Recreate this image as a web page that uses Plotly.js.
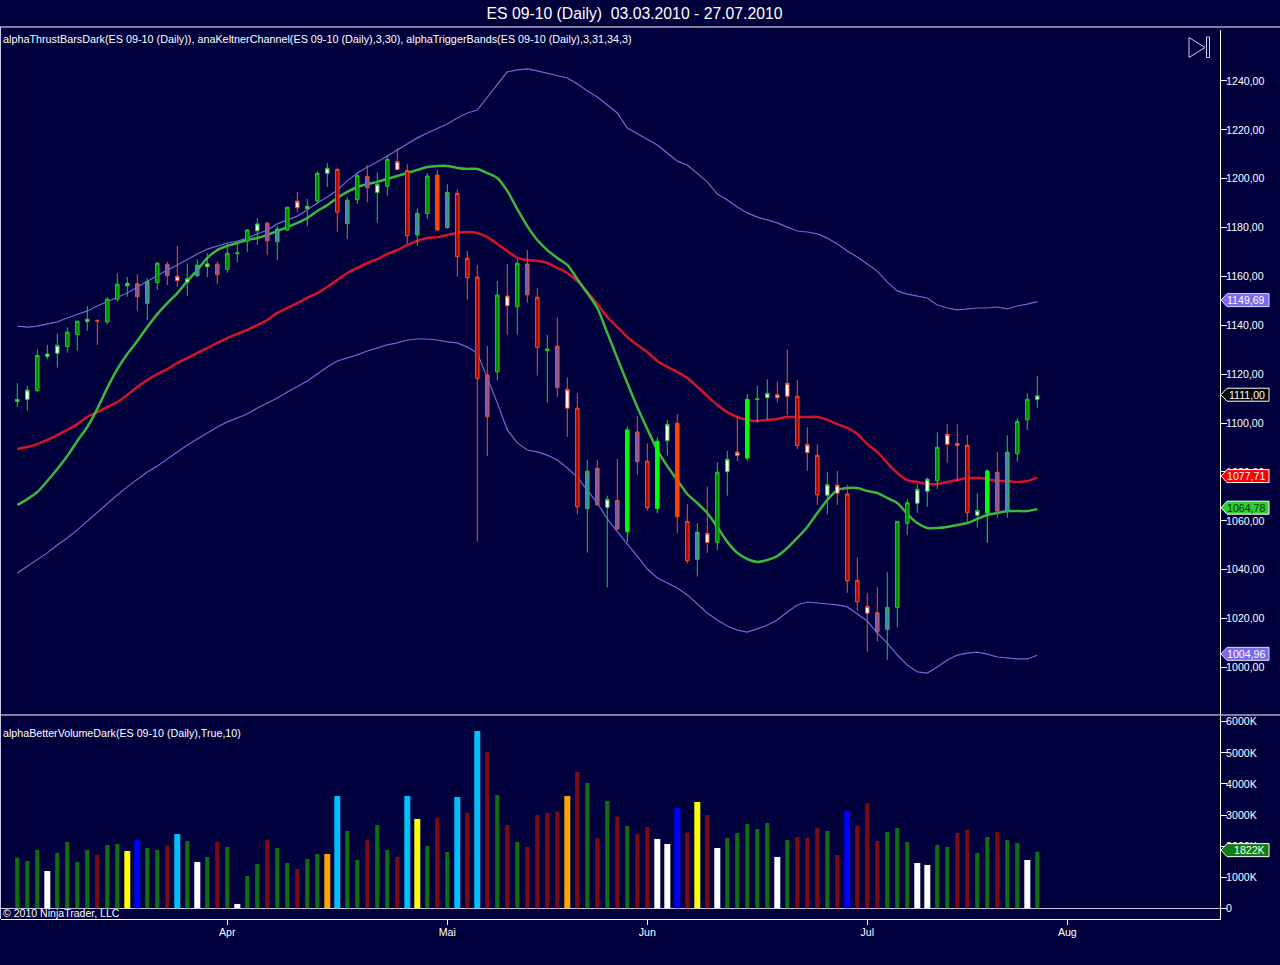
<!DOCTYPE html>
<html>
<head>
<meta charset="utf-8">
<script src="https://cdn.plot.ly/plotly-3.0.1.min.js"></script>
<style>html,body{margin:0;padding:0;background:#00003c;overflow:hidden}#chart{width:1280px;height:965px}</style>
</head>
<body>
<div id="chart"></div>
<script>
const monthTickIndex = [21, 43, 63, 85, 105];
const monthTickLabels = ['Apr', 'Mai', 'Jun', 'Jul', 'Aug'];
const priceTicks = [1000,1020,1040,1060,1080,1100,1120,1140,1160,1180,1200,1220,1240];
const volumeTicks = [0,1000,2000,3000,4000,5000,6000];
const volumeTickLabels = ['0','1000K','2000K','3000K','4000K','5000K','6000K'];

const highs = [
1116.3,1115.2,1130.2,1132.0,1136.7,1139.2,1141.9,1147.9,1142.5,1151.5,
1161.3,1159.8,1160.9,1159.2,1166.0,1166.0,1172.5,1165.4,1167.0,1169.5,
1166.0,1173.6,1174.2,1179.4,1183.8,1182.4,1180.8,1188.5,1194.6,1191.7,
1203.0,1206.4,1204.3,1192.4,1202.2,1205.6,1202.6,1209.4,1212.4,1205.9,
1187.9,1202.2,1203.8,1197.7,1195.7,1170.5,1164.7,1131.5,1158.1,1165.1,
1167.0,1170.8,1155.2,1136.1,1143.3,1118.7,1112.2,1084.9,1084.9,1070.3,
1085.3,1098.5,1102.9,1091.7,1094.2,1101.3,1103.7,1066.8,1059.0,1074.0,
1084.0,1088.6,1102.6,1111.8,1115.2,1117.9,1117.1,1129.9,1117.6,1098.3,
1091.3,1080.0,1080.5,1074.7,1045.1,1030.4,1032.8,1039.0,1059.9,1068.8,
1075.1,1077.8,1096.2,1099.5,1099.5,1095.1,1071.3,1081.1,1088.2,1095.0,
1102.0,1112.2,1119.3];
const lows = [
1106.5,1105.1,1112.8,1126.1,1122.7,1128.8,1129.6,1137.7,1132.0,1140.4,
1149.7,1151.7,1146.0,1142.2,1154.5,1156.5,1155.8,1152.1,1159.7,1159.7,
1156.8,1161.5,1165.9,1170.0,1172.9,1168.8,1166.7,1178.7,1186.3,1180.6,
1189.9,1196.7,1178.3,1175.3,1189.7,1190.3,1182.0,1193.0,1203.6,1173.3,
1172.6,1183.5,1178.5,1179.5,1159.9,1150.4,1051.5,1086.5,1117.4,1136.1,
1136.3,1149.3,1119.4,1108.4,1110.8,1094.4,1062.8,1047.0,1066.5,1032.8,
1056.3,1051.2,1078.8,1064.2,1063.1,1086.7,1054.9,1042.6,1037.2,1046.9,
1048.1,1070.3,1084.5,1084.6,1100.2,1101.3,1108.4,1103.3,1089.3,1080.5,
1066.5,1062.8,1066.5,1030.6,1023.2,1006.5,1010.6,1003.1,1016.4,1054.2,
1063.3,1065.8,1073.0,1083.8,1076.0,1059.7,1057.2,1051.1,1061.3,1061.3,
1084.2,1097.2,1106.3];
const bodyTop = [
1109.7,1113.5,1127.7,1128.3,1131.8,1137.2,1141.7,1142.5,1141.9,1150.7,
1156.8,1157.2,1157.0,1157.9,1165.4,1165.0,1160.1,1159.1,1164.6,1165.2,
1165.0,1169.5,1169.6,1179.0,1181.5,1181.8,1179.4,1188.3,1190.8,1188.7,
1202.2,1204.3,1203.8,1191.2,1201.2,1201.0,1197.7,1207.9,1207.0,1203.3,
1185.8,1201.1,1201.5,1194.4,1194.0,1167.4,1159.7,1119.7,1152.4,1152.0,
1165.4,1165.1,1151.5,1130.3,1131.5,1113.8,1106.1,1080.3,1081.5,1068.8,
1068.4,1097.2,1096.4,1084.4,1092.6,1099.5,1099.9,1059.7,1055.3,1054.9,
1079.9,1085.2,1088.1,1109.7,1109.9,1112.2,1111.6,1116.3,1111.0,1091.2,
1086.8,1074.8,1074.6,1071.0,1035.7,1025.0,1022.4,1024.6,1059.8,1067.4,
1072.9,1077.0,1090.1,1095.4,1091.7,1090.9,1064.2,1080.4,1079.9,1088.1,
1100.7,1109.7,1111.2];
const bodyBottom = [
1108.8,1109.7,1113.3,1127.3,1128.6,1131.3,1136.2,1141.5,1141.7,1141.4,
1150.7,1156.2,1151.7,1149.0,1157.5,1160.3,1158.3,1157.7,1160.3,1164.0,
1160.7,1162.9,1169.3,1174.5,1178.7,1174.6,1174.2,1179.0,1188.1,1187.7,
1190.9,1202.2,1186.3,1181.6,1191.4,1196.3,1194.4,1196.9,1203.7,1176.7,
1177.0,1185.7,1179.0,1180.0,1168.1,1159.5,1118.3,1102.6,1121.0,1148.0,
1147.6,1152.5,1131.0,1129.6,1114.5,1106.1,1065.8,1065.1,1066.5,1065.5,
1056.7,1055.6,1084.2,1065.4,1065.1,1092.8,1061.7,1043.7,1044.3,1051.1,
1051.2,1080.1,1086.8,1085.7,1109.6,1110.4,1110.4,1111.0,1090.8,1087.9,
1070.7,1070.5,1071.3,1035.5,1026.9,1022.2,1014.6,1015.6,1024.6,1059.0,
1067.2,1072.1,1076.4,1091.3,1090.8,1063.3,1062.3,1063.2,1064.0,1063.7,
1087.5,1101.4,1109.7];
// w white/green, g dark green, b bright green, s steel/green, r dark red, o orange, x white/red, p purple/red
const candleKinds = [
'w','w','g','w','w','g','g','w','r','g',
'g','w','p','s','g','p','x','w','s','w',
'p','g','g','g','w','p','s','g','x','w',
'g','w','r','s','g','p','w','g','x','r',
's','g','o','s','r','r','r','p','g','x',
'g','p','r','g','p','x','r','s','p','w',
'p','b','p','r','b','w','o','r','s','x',
'g','w','x','b','g','w','x','x','r','x',
'r','w','x','r','r','x','p','s','g','g',
'w','w','g','x','x','r','w','b','p','s',
'g','g','w'];

const triggerGreen = [
1066.5,1068.9,1071.8,1076.3,1081.2,1086.5,1092.7,1098.4,1105.8,1114.4,
1122.1,1128.3,1133.6,1139.3,1144.6,1149.1,1153.2,1158.1,1162.6,1167.6,
1170.8,1172.5,1173.7,1174.9,1175.7,1177.0,1178.6,1180.2,1181.9,1183.9,
1186.8,1189.2,1192.1,1194.6,1196.6,1197.8,1198.7,1199.9,1201.1,1202.3,
1203.6,1204.8,1205.2,1205.2,1204.4,1204.0,1204.0,1202.3,1200.3,1195.0,
1187.6,1180.6,1174.9,1170.8,1167.6,1164.7,1159.0,1153.2,1147.1,1136.9,
1126.6,1116.4,1106.6,1097.6,1089.0,1082.4,1076.7,1071.0,1067.3,1063.2,
1057.5,1051.4,1046.9,1044.4,1043.2,1044.0,1045.6,1048.9,1053.0,1057.5,
1063.2,1068.5,1072.6,1073.4,1073.4,1072.2,1071.4,1069.4,1067.3,1062.8,
1059.1,1057.1,1057.1,1057.5,1058.3,1059.1,1060.8,1062.4,1063.2,1064.0,
1064.0,1064.0,1064.8];
const triggerRed = [
1089.4,1090.2,1091.4,1093.1,1095.1,1097.2,1099.6,1102.5,1104.5,1106.6,
1108.6,1111.5,1114.8,1117.6,1120.1,1122.1,1124.6,1126.6,1128.7,1130.7,
1132.8,1134.8,1136.5,1138.1,1140.1,1142.2,1145.1,1147.1,1149.1,1151.2,
1153.2,1155.7,1158.6,1161.4,1163.5,1165.5,1167.1,1169.2,1170.8,1172.9,
1174.5,1175.7,1176.1,1177.0,1177.8,1178.2,1177.8,1176.1,1173.3,1170.4,
1167.6,1166.7,1166.3,1165.5,1163.5,1161.4,1158.1,1153.6,1148.7,1143.4,
1139.3,1135.2,1132.0,1129.1,1125.4,1123.0,1120.9,1118.5,1114.8,1111.1,
1107.4,1104.5,1102.5,1101.3,1100.9,1101.3,1101.7,1102.5,1102.5,1102.5,
1102.5,1101.3,1099.6,1098.0,1095.5,1091.4,1088.2,1083.7,1079.6,1076.7,
1075.9,1075.1,1075.1,1075.9,1076.7,1077.5,1077.5,1077.1,1076.3,1076.3,
1075.9,1076.3,1077.7];
const keltnerUpper = [
1139.7,1139.3,1139.7,1140.6,1141.4,1143.0,1144.6,1145.9,1147.9,1149.6,
1151.2,1153.2,1155.7,1158.1,1160.2,1162.6,1164.7,1167.1,1169.2,1171.2,
1172.5,1173.7,1174.5,1175.7,1177.4,1179.0,1181.5,1183.1,1184.7,1187.2,
1190.1,1192.5,1195.4,1199.1,1202.3,1204.8,1206.8,1209.3,1211.7,1214.2,
1216.7,1218.7,1220.7,1222.4,1224.8,1226.9,1228.1,1233.4,1238.8,1243.7,
1244.5,1244.9,1244.1,1243.2,1242.4,1241.2,1238.8,1235.9,1233.4,1230.2,
1226.9,1220.7,1218.3,1216.2,1213.8,1210.5,1207.2,1205.6,1202.3,1198.7,
1193.7,1191.3,1188.4,1186.0,1184.3,1183.1,1181.9,1180.2,1178.6,1178.2,
1177.4,1175.7,1173.3,1170.4,1168.0,1165.1,1162.2,1157.7,1154.1,1152.8,
1152.0,1151.2,1148.3,1147.1,1146.3,1146.7,1147.1,1147.1,1147.5,1146.7,
1147.9,1148.7,1149.7];
const keltnerLower = [
1038.7,1041.5,1044.4,1046.9,1050.1,1053.0,1056.3,1059.9,1063.6,1066.9,
1070.6,1073.9,1077.1,1080.0,1082.4,1085.3,1088.2,1091.0,1093.5,1096.0,
1098.4,1100.5,1102.1,1103.7,1106.2,1108.2,1110.3,1112.7,1114.8,1117.2,
1120.1,1123.0,1125.4,1126.6,1127.9,1129.5,1130.7,1132.0,1132.8,1134.0,
1134.4,1134.4,1134.0,1133.2,1132.8,1131.1,1128.7,1118.5,1108.2,1097.2,
1091.9,1089.0,1088.2,1086.9,1084.9,1081.6,1077.9,1072.6,1067.3,1060.8,
1055.4,1050.5,1045.6,1040.3,1036.6,1034.6,1032.5,1029.7,1026.0,1022.3,
1019.4,1017.0,1015.3,1014.5,1015.8,1017.4,1019.4,1022.7,1025.6,1026.8,
1026.4,1026.0,1025.6,1024.8,1021.9,1019.0,1014.1,1010.0,1005.1,1001.0,
998.2,997.7,1000.2,1003.1,1005.1,1005.9,1006.3,1005.5,1004.3,1003.9,
1003.5,1003.5,1005.0];

// thousands of contracts
const volumes = [
1629,1522,1876,1200,1780,2133,1490,1876,1726,2037,
2069,1844,2198,1940,1876,2015,2390,2165,1490,1651,
2133,1972,140,1040,1426,2198,1940,1458,1265,1587,
1747,1747,3613,2487,1554,2198,2680,1876,1651,3613,
2873,2005,2905,1812,3580,3077,5703,5028,3645,2680,
2133,1972,3002,3077,3109,3613,4384,4031,2262,3452,
2948,2648,2390,2616,2230,2069,3227,2433,3420,3002,
1940,2262,2423,2712,2551,2744,1651,2198,2294,2262,
2584,2487,1715,3130,2648,3377,2165,2455,2584,2133,
1458,1394,2037,1972,2423,2519,1780,2294,2455,2198,
2101,1554,1822];
// g green, r red, w white, c cyan, y yellow, b blue, o orange
const volumeKinds = [
'g','g','g','w','g','g','g','g','r','g',
'g','y','b','g','g','r','c','g','w','g',
'r','g','w','g','g','r','g','g','r','g',
'g','o','c','g','g','r','g','g','r','c',
'y','g','r','g','c','r','c','r','g','r',
'g','r','r','r','r','o','r','g','r','g',
'r','g','r','r','w','w','b','r','y','r',
'w','g','g','g','g','g','w','g','r','r',
'r','g','r','b','r','r','r','g','g','g',
'w','w','g','g','r','r','g','g','r','g',
'g','w','g'];

const lastValueTags = [
  {axis:'y',  value:1149.69, text:'1149,69', fill:'#7b68ee', border:'#e0e0ff', ink:'#ffffff'},
  {axis:'y',  value:1111.00, text:'1111,00', fill:'#000000', border:'#ffffff', ink:'#ffffff'},
  {axis:'y',  value:1077.71, text:'1077,71', fill:'#ff0000', border:'#ffffff', ink:'#ffffff'},
  {axis:'y',  value:1064.78, text:'1064,78', fill:'#32cd32', border:'#ffffff', ink:'#003300'},
  {axis:'y',  value:1004.96, text:'1004,96', fill:'#7b68ee', border:'#e0e0ff', ink:'#ffffff'},
  {axis:'y2', value:1822,    text:'1822K',   fill:'#147a14', border:'#ffffff', ink:'#ffffff'}
];

const chartTitle = 'ES 09-10 (Daily)\u00a0 03.03.2010 - 27.07.2010';
const priceLegend = 'alphaThrustBarsDark(ES 09-10 (Daily)), anaKeltnerChannel(ES 09-10 (Daily),3,30), alphaTriggerBands(ES 09-10 (Daily),3,31,34,3)';
const volumeLegend = 'alphaBetterVolumeDark(ES 09-10 (Daily),True,10)';
const copyright = '\u00a9 2010 NinjaTrader, LLC';

// ---------- styling ----------
const W = 1280, H = 965;
const BG = '#00003c';
const FONT = '"Liberation Sans", Arial, sans-serif';
const px = v => v / W;
const py = v => 1 - v / H;
const PRICE_RANGE = [980.77, 1260.84];
const VOLUME_RANGE = [-344, 6199];
const X_RANGE = [-1.63, 120.27];

const candleStyles = {
  g: {fill:'#008a00', line:'#22cc22'},
  b: {fill:'#00ff00', line:'#00ff00'},
  w: {fill:'#ffffff', line:'#22cc22'},
  s: {fill:'#4682b4', line:'#22cc22'},
  r: {fill:'#a80808', line:'#ff4a20'},
  o: {fill:'#ff4500', line:'#ff4500'},
  x: {fill:'#ffffff', line:'#ff4a20'},
  p: {fill:'#7060b4', line:'#ff4a20'}
};
const volumeStyles = {
  g: {color:'#0f6e0f', width:0.42},
  r: {color:'#7d0a14', width:0.42},
  w: {color:'#ffffff', width:0.6},
  c: {color:'#00bfff', width:0.6},
  y: {color:'#ffff00', width:0.6},
  b: {color:'#0000ff', width:0.6},
  o: {color:'#ffa500', width:0.6}
};

const indexes = highs.map((_, i) => i);

const lineTrace = (values, color, width, shape) => ({
  type:'scatter', mode:'lines', x:indexes, y:values, xaxis:'x', yaxis:'y',
  line:{color, width, shape, smoothing:0.7}, hoverinfo:'skip', showlegend:false
});

const traces = [
  lineTrace(keltnerUpper, '#7068d8', 1.2, 'linear'),
  lineTrace(keltnerLower, '#7068d8', 1.2, 'linear'),
  lineTrace(triggerRed, '#d4142a', 2.5, 'spline'),
  lineTrace(triggerGreen, '#3cb83c', 2.5, 'spline')
];

Object.keys(candleStyles).forEach(kind => {
  const picks = indexes.filter(i => candleKinds[i] === kind);
  const st = candleStyles[kind];
  const side = {line:{color:st.line, width:1}, fillcolor:st.fill};
  traces.push({
    type:'candlestick', xaxis:'x', yaxis:'y3',
    x:picks,
    open:picks.map(i => bodyBottom[i]),
    close:picks.map(i => bodyTop[i]),
    high:picks.map(i => highs[i]),
    low:picks.map(i => lows[i]),
    increasing:side, decreasing:side,
    hoverinfo:'skip', showlegend:false
  });
});

traces.push({
  type:'bar', xaxis:'x', yaxis:'y2', x:indexes, y:volumes,
  width:volumeKinds.map(k => volumeStyles[k].width),
  marker:{color:volumeKinds.map(k => volumeStyles[k].color), line:{width:0}},
  hoverinfo:'skip', showlegend:false
});

const rule = (x0, y0, x1, y1, color) => ({
  type:'line', xref:'paper', yref:'paper',
  x0:px(x0), y0:py(y0), x1:px(x1), y1:py(y1),
  line:{color:color || '#ffffff', width:1}
});

const shapes = [
  rule(0, 27, 1280, 27),
  rule(0, 715, 1280, 715),
  rule(0.5, 27, 0.5, 919, '#c8c8e8'),
  {type:'path', xref:'paper', yref:'paper',
   path:`M${px(1189)},${py(37.5)} L${px(1205)},${py(47.5)} L${px(1189)},${py(57.5)} Z`,
   line:{color:'#d0d0f0', width:1}, fillcolor:'rgba(0,0,0,0)'},
  {type:'rect', xref:'paper', yref:'paper',
   x0:px(1206.5), x1:px(1209.5), y0:py(37), y1:py(57.5),
   line:{color:'#d0d0f0', width:1}, fillcolor:'rgba(0,0,0,0)'}
];

const annotations = [
  {xref:'paper', yref:'paper', x:px(1), y:py(39), xanchor:'left', yanchor:'middle', showarrow:false,
   text:priceLegend, font:{family:FONT, size:10.8, color:'#ffffff'}},
  {xref:'paper', yref:'paper', x:px(1), y:py(733), xanchor:'left', yanchor:'middle', showarrow:false,
   text:volumeLegend, font:{family:FONT, size:10.7, color:'#ffffff'}},
  {xref:'paper', yref:'paper', x:px(1), y:py(912.5), xanchor:'left', yanchor:'middle', showarrow:false,
   text:copyright, font:{family:FONT, size:10.55, color:'#ffffff'}}
];

lastValueTags.forEach(t => {
  shapes.push({
    type:'path', xref:'paper', yref:t.axis,
    xsizemode:'pixel', xanchor:px(1220), ysizemode:'pixel', yanchor:t.value,
    path:'M1,1.5 L7,8 L49,8 L49,-5 L7,-5 Z',
    fillcolor:t.fill, line:{color:t.border, width:1}
  });
  annotations.push({
    xref:'paper', yref:t.axis, x:px(1266.5), y:t.value, yshift:1.5,
    xanchor:'right', yanchor:'middle', showarrow:false, text:t.text,
    font:{family:FONT, size:10.6, color:t.ink}
  });
});

const axisFont = {family:FONT, size:10.6, color:'#ffffff'};

const layout = {
  width:W, height:H,
  margin:{l:0, r:0, t:0, b:0, pad:0},
  paper_bgcolor:BG, plot_bgcolor:BG,
  separators:', ',
  showlegend:false,
  hovermode:false,
  dragmode:false,
  boxmode:'overlay',
  boxgap:0.5,
  barmode:'overlay',
  title:{text:chartTitle, x:634.5/W, xanchor:'center', xref:'paper',
         y:py(13), yanchor:'middle', yref:'paper',
         font:{family:FONT, size:15.75, color:'#ffffff'}},
  xaxis:{
    domain:[px(1), px(1220)], range:X_RANGE, anchor:'y2',
    tickmode:'array', tickvals:monthTickIndex, ticktext:monthTickLabels,
    ticks:'outside', ticklen:5, tickcolor:'#ffffff', tickwidth:1, ticklabelstandoff:-2,
    showgrid:false, zeroline:false, showline:true, linecolor:'#ffffff', linewidth:1,
    tickfont:axisFont, rangeslider:{visible:false}, fixedrange:true
  },
  yaxis:{
    domain:[py(714.5), py(30)], range:PRICE_RANGE, side:'right', anchor:'x',
    tickmode:'array', tickvals:priceTicks, tickformat:'.2f',
    ticks:'outside', ticklen:6, tickcolor:'#ffffff', tickwidth:1, ticklabelstandoff:-3,
    showgrid:false, zeroline:false, showline:true, linecolor:'#ffffff', linewidth:1,
    tickfont:axisFont, fixedrange:true
  },
  yaxis3:{overlaying:'y', range:PRICE_RANGE, side:'right', visible:false, fixedrange:true, anchor:'x'},
  yaxis2:{
    domain:[py(919), py(715.5)], range:VOLUME_RANGE, side:'right', anchor:'x',
    tickmode:'array', tickvals:volumeTicks, ticktext:volumeTickLabels,
    ticks:'outside', ticklen:6, tickcolor:'#ffffff', tickwidth:1, ticklabelstandoff:-3,
    showgrid:false, zeroline:true, zerolinecolor:'#c8c8e8', zerolinewidth:1,
    showline:true, linecolor:'#ffffff', linewidth:1,
    tickfont:axisFont, fixedrange:true
  },
  shapes, annotations
};

Plotly.newPlot('chart', traces, layout, {displayModeBar:false, staticPlot:true});
</script>
</body>
</html>
